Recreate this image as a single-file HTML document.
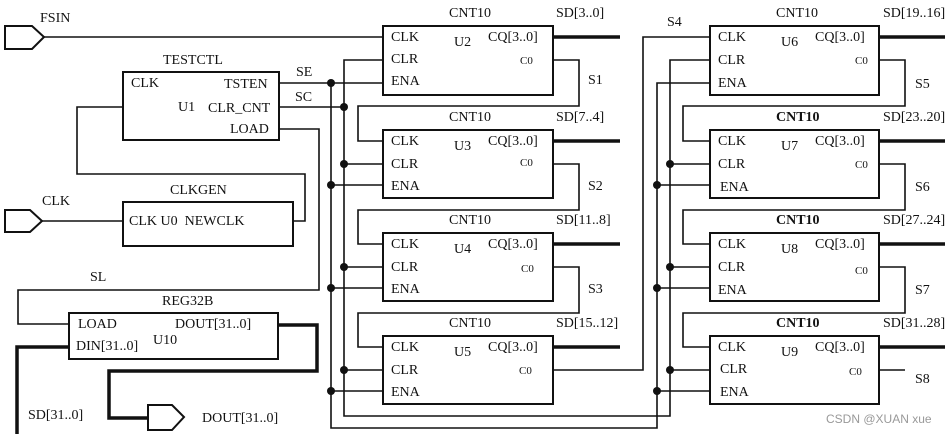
<!DOCTYPE html>
<html><head><meta charset="utf-8"><style>
html,body{margin:0;padding:0;background:#fff;}
svg{display:block;}
text{font-family:"Liberation Serif",serif;font-size:14px;fill:#111;}
.s{font-size:11px;}
</style></head><body>
<svg width="951" height="434" viewBox="0 0 951 434" xmlns="http://www.w3.org/2000/svg">
<g fill="none" stroke="#111" stroke-width="2">
<!-- ports -->
<polygon points="5,26 32,26 44,37 32,49 5,49"/>
<polygon points="5,210 30,210 42,221 30,232 5,232"/>
<polygon points="148,405 172,405 184,417 172,430 148,430"/>
<!-- boxes -->
<rect x="123" y="72" width="156" height="68"/>
<rect x="123" y="202" width="170" height="44"/>
<rect x="69" y="313" width="209" height="46"/>
<rect x="383" y="26" width="170" height="69"/>
<rect x="383" y="130" width="170" height="68"/>
<rect x="383" y="233" width="170" height="68"/>
<rect x="383" y="336" width="170" height="68"/>
<rect x="710" y="26" width="169" height="69"/>
<rect x="710" y="130" width="169" height="68"/>
<rect x="710" y="233" width="169" height="68"/>
<rect x="710" y="336" width="169" height="68"/>
</g>
<g fill="none" stroke="#111" stroke-width="1.6">
<!-- FSIN -->
<line x1="44" y1="37" x2="383" y2="37"/>
<!-- CLK -> CLKGEN -->
<line x1="42" y1="221" x2="123" y2="221"/>
<!-- NEWCLK -> TESTCTL CLK -->
<polyline points="293,221 305,221 305,174 77,174 77,107 123,107"/>
<!-- SE -->
<line x1="279" y1="83" x2="383" y2="83"/>
<!-- SC -->
<line x1="279" y1="107" x2="344" y2="107"/>
<!-- LOAD / SL -->
<polyline points="279,129 319,129 319,290 18,290 18,324 69,324"/>
<!-- vertical buses left -->
<polyline points="331,83 331,428 657,428 657,83 710,83"/>
<polyline points="383,60 344,60 344,416 670,416 670,60 710,60"/>
<!-- left box input stubs -->
<line x1="344" y1="164" x2="383" y2="164"/><line x1="331" y1="185" x2="383" y2="185"/>
<line x1="344" y1="267" x2="383" y2="267"/><line x1="331" y1="288" x2="383" y2="288"/>
<line x1="344" y1="370" x2="383" y2="370"/><line x1="331" y1="391" x2="383" y2="391"/>
<!-- right box input stubs -->
<line x1="670" y1="164" x2="710" y2="164"/><line x1="657" y1="185" x2="710" y2="185"/>
<line x1="670" y1="267" x2="710" y2="267"/><line x1="657" y1="288" x2="710" y2="288"/>
<line x1="670" y1="370" x2="710" y2="370"/><line x1="657" y1="391" x2="710" y2="391"/>
<!-- carry chains left -->
<polyline points="553,60 579,60 579,106 358,106 358,141 383,141"/>
<polyline points="553,164 579,164 579,210 358,210 358,244 383,244"/>
<polyline points="553,267 579,267 579,313 358,313 358,347 383,347"/>
<polyline points="553,370 643,370 643,37 710,37"/>
<!-- carry chains right -->
<polyline points="879,60 905,60 905,106 683,106 683,141 710,141"/>
<polyline points="879,164 905,164 905,210 683,210 683,244 710,244"/>
<polyline points="879,267 905,267 905,313 683,313 683,347 710,347"/>
<line x1="879" y1="370" x2="905" y2="370"/>
</g>
<g fill="none" stroke="#111" stroke-width="3.5">
<line x1="553" y1="37" x2="620" y2="37"/>
<line x1="553" y1="141" x2="620" y2="141"/>
<line x1="553" y1="244" x2="620" y2="244"/>
<line x1="553" y1="347" x2="620" y2="347"/>
<line x1="879" y1="37" x2="945" y2="37"/>
<line x1="879" y1="141" x2="945" y2="141"/>
<line x1="879" y1="244" x2="945" y2="244"/>
<line x1="879" y1="347" x2="945" y2="347"/>
<polyline points="278,325 317,325 317,371 109,371 109,418 148,418"/>
<polyline points="69,347 17,347 17,434"/>
</g>
<g fill="#111">
<circle cx="331" cy="83" r="4"/><circle cx="344" cy="107" r="4"/>
<circle cx="344" cy="164" r="4"/><circle cx="331" cy="185" r="4"/>
<circle cx="344" cy="267" r="4"/><circle cx="331" cy="288" r="4"/>
<circle cx="344" cy="370" r="4"/><circle cx="331" cy="391" r="4"/>
<circle cx="670" cy="164" r="4"/><circle cx="657" cy="185" r="4"/>
<circle cx="670" cy="267" r="4"/><circle cx="657" cy="288" r="4"/>
<circle cx="670" cy="370" r="4"/><circle cx="657" cy="391" r="4"/>
</g>
<!-- labels -->
<text x="40" y="22">FSIN</text>
<text x="42" y="205">CLK</text>
<text x="163" y="64">TESTCTL</text>
<text x="131" y="87">CLK</text><text x="224" y="88">TSTEN</text>
<text x="178" y="111">U1</text><text x="208" y="112">CLR_CNT</text>
<text x="230" y="133">LOAD</text>
<text x="296" y="76">SE</text><text x="295" y="101">SC</text>
<text x="170" y="194">CLKGEN</text>
<text x="129" y="225">CLK U0&#160;&#160;NEWCLK</text>
<text x="90" y="281">SL</text>
<text x="162" y="305">REG32B</text>
<text x="78" y="328">LOAD</text><text x="175" y="328">DOUT[31..0]</text>
<text x="76" y="350">DIN[31..0]</text><text x="153" y="344">U10</text>
<text x="28" y="419">SD[31..0]</text>
<text x="202" y="422">DOUT[31..0]</text>
<!-- left counters -->
<text x="449" y="17">CNT10</text><text x="556" y="17">SD[3..0]</text>
<text x="391" y="41">CLK</text><text x="454" y="46">U2</text><text x="488" y="41">CQ[3..0]</text>
<text x="391" y="63">CLR</text><text x="520" y="64" class="s">C0</text><text x="391" y="85">ENA</text>
<text x="588" y="84">S1</text>
<text x="449" y="121">CNT10</text><text x="556" y="121">SD[7..4]</text>
<text x="391" y="145">CLK</text><text x="454" y="150">U3</text><text x="488" y="145">CQ[3..0]</text>
<text x="391" y="168">CLR</text><text x="520" y="166" class="s">C0</text><text x="391" y="190">ENA</text>
<text x="588" y="190">S2</text>
<text x="449" y="224">CNT10</text><text x="556" y="224">SD[11..8]</text>
<text x="391" y="248">CLK</text><text x="454" y="253">U4</text><text x="488" y="248">CQ[3..0]</text>
<text x="391" y="271">CLR</text><text x="521" y="272" class="s">C0</text><text x="391" y="293">ENA</text>
<text x="588" y="293">S3</text>
<text x="449" y="327">CNT10</text><text x="556" y="327">SD[15..12]</text>
<text x="391" y="351">CLK</text><text x="454" y="356">U5</text><text x="488" y="351">CQ[3..0]</text>
<text x="391" y="374">CLR</text><text x="519" y="374" class="s">C0</text><text x="391" y="396">ENA</text>
<!-- right counters -->
<text x="667" y="26">S4</text>
<text x="776" y="17">CNT10</text><text x="883" y="17">SD[19..16]</text>
<text x="718" y="41">CLK</text><text x="781" y="46">U6</text><text x="815" y="41">CQ[3..0]</text>
<text x="718" y="64">CLR</text><text x="855" y="64" class="s">C0</text><text x="718" y="87">ENA</text>
<text x="915" y="88">S5</text>
<text x="776" y="121" font-weight="bold">CNT10</text><text x="883" y="121">SD[23..20]</text>
<text x="718" y="145">CLK</text><text x="781" y="150">U7</text><text x="815" y="145">CQ[3..0]</text>
<text x="718" y="168">CLR</text><text x="855" y="168" class="s">C0</text><text x="720" y="191">ENA</text>
<text x="915" y="191">S6</text>
<text x="776" y="224" font-weight="bold">CNT10</text><text x="883" y="224">SD[27..24]</text>
<text x="718" y="248">CLK</text><text x="781" y="253">U8</text><text x="815" y="248">CQ[3..0]</text>
<text x="718" y="271">CLR</text><text x="855" y="274" class="s">C0</text><text x="718" y="294">ENA</text>
<text x="915" y="294">S7</text>
<text x="776" y="327" font-weight="bold">CNT10</text><text x="883" y="327">SD[31..28]</text>
<text x="718" y="351">CLK</text><text x="781" y="356">U9</text><text x="815" y="351">CQ[3..0]</text>
<text x="720" y="373">CLR</text><text x="849" y="375" class="s">C0</text><text x="720" y="396">ENA</text>
<text x="915" y="383">S8</text>
<text x="826" y="423" style="font-family:'Liberation Sans',sans-serif;font-size:12px;fill:#999">CSDN @XUAN xue</text>
</svg>
</body></html>
